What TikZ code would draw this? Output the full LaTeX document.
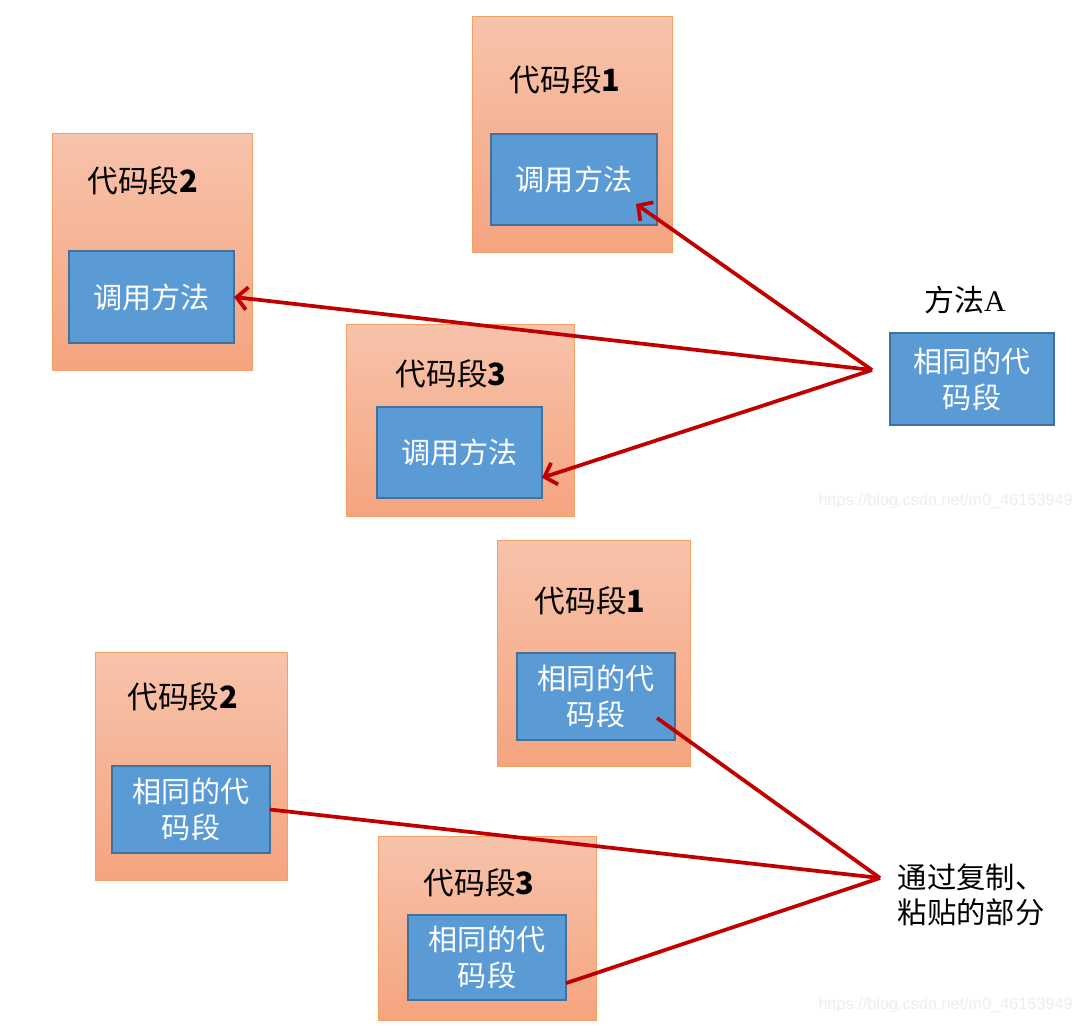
\documentclass[tikz,border=0pt]{standalone}
\usepackage{fontspec}
\setmainfont{Liberation Serif}
\newfontfamily\cjk{Noto Sans CJK SC}
\newfontfamily\markfont{Liberation Sans}
\usetikzlibrary{positioning,calc,arrows.meta}

\definecolor{segtop}{HTML}{F7C3AB}
\definecolor{segbottom}{HTML}{F5A47F}
\definecolor{segline}{HTML}{F4A064}
\definecolor{callfill}{HTML}{5B9BD5}
\definecolor{callline}{HTML}{41719C}
\definecolor{linkred}{HTML}{C00000}

\begin{document}
\begin{tikzpicture}[x=0.75pt,y=-0.75pt,
  segbox/.style 2 args={draw=segline,line width=0.75pt,top color=segtop,
    bottom color=segbottom,minimum width=#1pt,minimum height=#2pt,
    inner sep=0pt,outer sep=0pt},
  callbox/.style 2 args={draw=callline,line width=1.1pt,fill=callfill,
    text=white,font=\cjk\fontsize{21.8}{27}\selectfont,align=center,
    minimum width=#1pt,minimum height=#2pt,inner sep=0pt,outer sep=0pt},
  segtitle/.style={font=\cjk\fontsize{23}{27}\selectfont},
  callarrow/.style={draw=linkred,line width=2.8pt,
    -{Straight Barb[length=8pt,width=17pt]}},
  copyline/.style={draw=linkred,line width=2.8pt},
  watermark/.style={font=\markfont\fontsize{12.2}{14}\selectfont,
    text=black!7,anchor=east,inner sep=0pt}]
  \useasboundingbox (0,0) rectangle (1073,1035);

  % calling the method
  \node[segbox={150}{177}] (seg1) at (572,134) {};
  \node[segbox={150}{177.75}] (seg2) at (152,251.5) {};
  \node[segbox={171}{144}] (seg3) at (460,420) {};
  \node[segtitle] (title1) at (565,80) {代码段\textbf{1}};
  \node[segtitle] (title2) at (143,181) {代码段\textbf{2}};
  \node[segtitle] (title3) at (451,374) {代码段\textbf{3}};
  \node[callbox={124.5}{68.25}] (call1) at (574,179.5) {调用方法};
  \node[callbox={123.75}{69}] (call2) at (151.5,297) {调用方法};
  \node[callbox={123.75}{68.25}] (call3) at (459.5,452.5) {调用方法};
  \node[font=\fontsize{22.5}{27}\selectfont] (nameA) at (965,300) {{\cjk 方法}A};
  \node[callbox={123}{69}] (methodA) at (972,379) {相同的代\\码段};
  \coordinate (hubA) at (872,370);
  \draw[callarrow] (hubA) -- ($(call1.center)+(62,24.5)$);
  \draw[callarrow] (hubA) -- (call2.east);
  \draw[callarrow] (hubA) -- (call3.-17);
  \node[watermark] (mark1) at (1073,501) {https://blog.csdn.net/m0\_46153949};

  % copy and paste
  \node[segbox={144.75}{169.5}] (copy1) at (593.5,653) {};
  \node[segbox={144}{171}] (copy2) at (191,766) {};
  \node[segbox={163.5}{138}] (copy3) at (487,928) {};
  \node[segtitle] (ctitle1) at (590,601) {代码段\textbf{1}};
  \node[segtitle] (ctitle2) at (183,697) {代码段\textbf{2}};
  \node[segtitle] (ctitle3) at (479,883) {代码段\textbf{3}};
  \node[callbox={118.5}{65.25}] (same1) at (596,696.5) {相同的代\\码段};
  \node[callbox={118.5}{65.25}] (same2) at (191,809.5) {相同的代\\码段};
  \node[callbox={118.5}{63.75}] (same3) at (487,957.5) {相同的代\\码段};
  \node[font=\cjk\fontsize{22}{26.5}\selectfont,align=left,anchor=west]
    (pasted) at (893,895) {通过复制、\\粘贴的部分};
  \coordinate (hubB) at (880,878);
  \draw[copyline] (hubB) -- ($(same1.center)+(61,21.5)$);
  \draw[copyline] (hubB) -- (same2.east);
  \draw[copyline] (hubB) -- (same3.-18);
  \node[watermark] (mark2) at (1073,1005) {https://blog.csdn.net/m0\_46153949};
\end{tikzpicture}
\end{document}
